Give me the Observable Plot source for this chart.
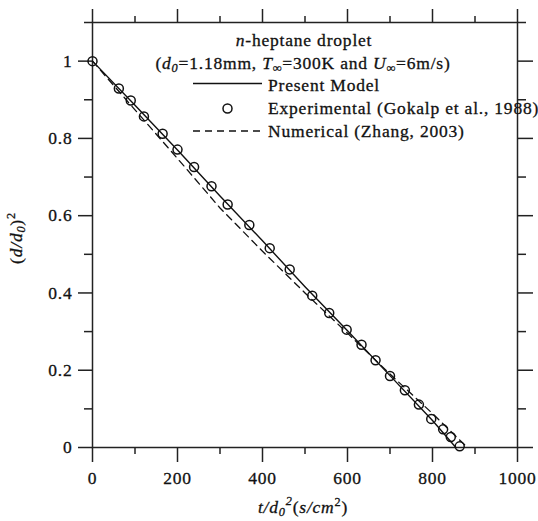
<!DOCTYPE html>
<html><head><meta charset="utf-8">
<script src="https://cdn.jsdelivr.net/npm/d3@7"></script>
<script src="https://cdn.jsdelivr.net/npm/@observablehq/plot@0.6"></script>
<style>
body{margin:0;background:#fff;}
#chart svg, #chart svg text{font-family:"Liberation Serif","Times New Roman",serif !important;}
#chart svg text{letter-spacing:0.8px; fill:#111; stroke:#111; stroke-width:0.3px;}
</style></head><body><div id="chart"></div>
<script>
// Experimental (Gokalp et al., 1988)
const expT = [0,62,90,121,165,200,239,280,318,369,417,464,517,557,598,633,666,700,735,768,797,825,843,864];
const expD = [1.0,0.929,0.898,0.857,0.812,0.771,0.726,0.676,0.629,0.576,0.516,0.461,0.393,0.348,0.305,0.266,0.226,0.185,0.148,0.111,0.074,0.047,0.027,0.003];
// Present Model
const modelT = [0,100,200,300,400,500,600,700,800,855];
const modelD = [1.0,0.886,0.770,0.651,0.535,0.416,0.302,0.186,0.070,0.0];
// Numerical (Zhang, 2003)
const numT = [0,100,200,300,400,500,600,700,800,882];
const numD = [1.0,0.874,0.748,0.620,0.508,0.400,0.296,0.190,0.088,0.0];
// ticks
const xMajor = [0,200,400,600,800,1000];
const xMinor = [100,300,500,700,900];
const xLabels = ["0","200","400","600","800","1000"];
const yMajor = [0,0.2,0.4,0.6,0.8,1];
const yMinor = [0.1,0.3,0.5,0.7,0.9,1.1];
const yLabels = ["0","0.2","0.4","0.6","0.8","1"];

const expData = expT.map((t,i)=>({t, d: expD[i]}));
const modelData = modelT.map((t,i)=>({t, d: modelD[i]}));
const numData = numT.map((t,i)=>({t, d: numD[i]}));

const ink = "#111";
const axisInk = "#222";
const sw = 1.5;
const blank = () => "";

const plot = Plot.plot({
  width: 538, height: 521,
  marginLeft: 92, marginRight: 21, marginTop: 22, marginBottom: 74,
  style: {fontSize: "17.5px", color: "#111", background: "#fff"},
  x: {domain: [0,1000], label: null},
  y: {domain: [0,1.1], label: null},
  marks: [
    Plot.axisX(xMajor, {anchor: "bottom", tickSize: 15, tickPadding: 9, tickFormat: d => xLabels[xMajor.indexOf(d)], label: null, stroke: axisInk, strokeWidth: sw}),
    Plot.axisX(xMinor, {anchor: "bottom", tickSize: 7, tickFormat: blank, label: null, stroke: axisInk, strokeWidth: sw}),
    Plot.axisX(xMajor, {anchor: "top", tickSize: 14, tickFormat: blank, label: null, stroke: axisInk, strokeWidth: sw}),
    Plot.axisX(xMinor, {anchor: "top", tickSize: 7, tickFormat: blank, label: null, stroke: axisInk, strokeWidth: sw}),
    Plot.axisY(yMajor, {anchor: "left", tickSize: 14, tickPadding: 6, tickFormat: d => yLabels[yMajor.indexOf(d)], label: null, stroke: axisInk, strokeWidth: sw}),
    Plot.axisY(yMinor, {anchor: "left", tickSize: 8, tickFormat: blank, label: null, stroke: axisInk, strokeWidth: sw}),
    Plot.axisY(yMajor, {anchor: "right", tickSize: 15, tickFormat: blank, label: null, stroke: axisInk, strokeWidth: sw}),
    Plot.axisY(yMinor, {anchor: "right", tickSize: 8, tickFormat: blank, label: null, stroke: axisInk, strokeWidth: sw}),
    Plot.frame({stroke: axisInk, strokeWidth: sw}),
    Plot.line(numData, {x: "t", y: "d", stroke: ink, strokeWidth: 1.3, strokeDasharray: "7,5"}),
    Plot.line(modelData, {x: "t", y: "d", stroke: ink, strokeWidth: 1.4}),
    Plot.dot(expData, {x: "t", y: "d", r: 4.5, stroke: ink, strokeWidth: 1.5, fill: "none"})
  ]
});
document.getElementById("chart").appendChild(plot);

const svg = d3.select(plot);
function addText(g, x, y, parts, opts = {}) {
  const t = g.append("text").attr("x", x).attr("y", y)
    .style("font-size", (opts.size || 17.5) + "px")
    .attr("text-anchor", opts.anchor || "start");
  if (opts.transform) t.attr("transform", opts.transform);
  for (const p of parts) {
    const s = t.append("tspan").text(p.t);
    if (p.i) s.attr("font-style", "italic");
    if (p.sub) s.attr("font-size", "0.7em").attr("dy", p.sub);
    if (p.dy) s.attr("dy", p.dy);
  }
  return t;
}
const g = svg.append("g");
// title lines
addText(g, 304, 46, [{t: "n", i: true}, {t: "-heptane droplet"}], {anchor: "middle"});
addText(g, 303, 69, [
  {t: "("}, {t: "d", i: true}, {t: "0", i: true, sub: "3"}, {t: "=1.18mm, ", dy: "-3"},
  {t: "T", i: true}, {t: "∞", sub: "3"}, {t: "=300K and ", dy: "-3"},
  {t: "U", i: true}, {t: "∞", sub: "3"}, {t: "=6m/s)", dy: "-3"}
], {anchor: "middle"});
// legend
g.append("line").attr("x1", 193).attr("x2", 262).attr("y1", 83.5).attr("y2", 83.5).attr("stroke", ink).attr("stroke-width", 1.5);
addText(g, 268, 91, [{t: "Present Model"}]);
g.append("circle").attr("cx", 227.5).attr("cy", 108.5).attr("r", 4.5).attr("fill", "none").attr("stroke", ink).attr("stroke-width", 1.5);
addText(g, 268, 114, [{t: "Experimental (Gokalp et al., 1988)"}]);
g.append("line").attr("x1", 193).attr("x2", 262).attr("y1", 131).attr("y2", 131).attr("stroke", ink).attr("stroke-width", 1.3).attr("stroke-dasharray", "7,5");
addText(g, 268, 137, [{t: "Numerical (Zhang, 2003)"}]);
// axis titles
addText(g, 303, 513, [
  {t: "t/d", i: true}, {t: "0", i: true, sub: "3"}, {t: "2", sub: "-11", i: true},
  {t: "(", dy: "8"}, {t: "s/cm", i: true}, {t: "2", sub: "-7"}, {t: ")", dy: "7"}
], {anchor: "middle"});
addText(g, 22, 238, [
  {t: "("}, {t: "d/d", i: true}, {t: "0", i: true, sub: "3"}, {t: ")", dy: "-3"}, {t: "2", sub: "-7"}
], {anchor: "middle", transform: "rotate(-90 22 238)"});
</script></body></html>
